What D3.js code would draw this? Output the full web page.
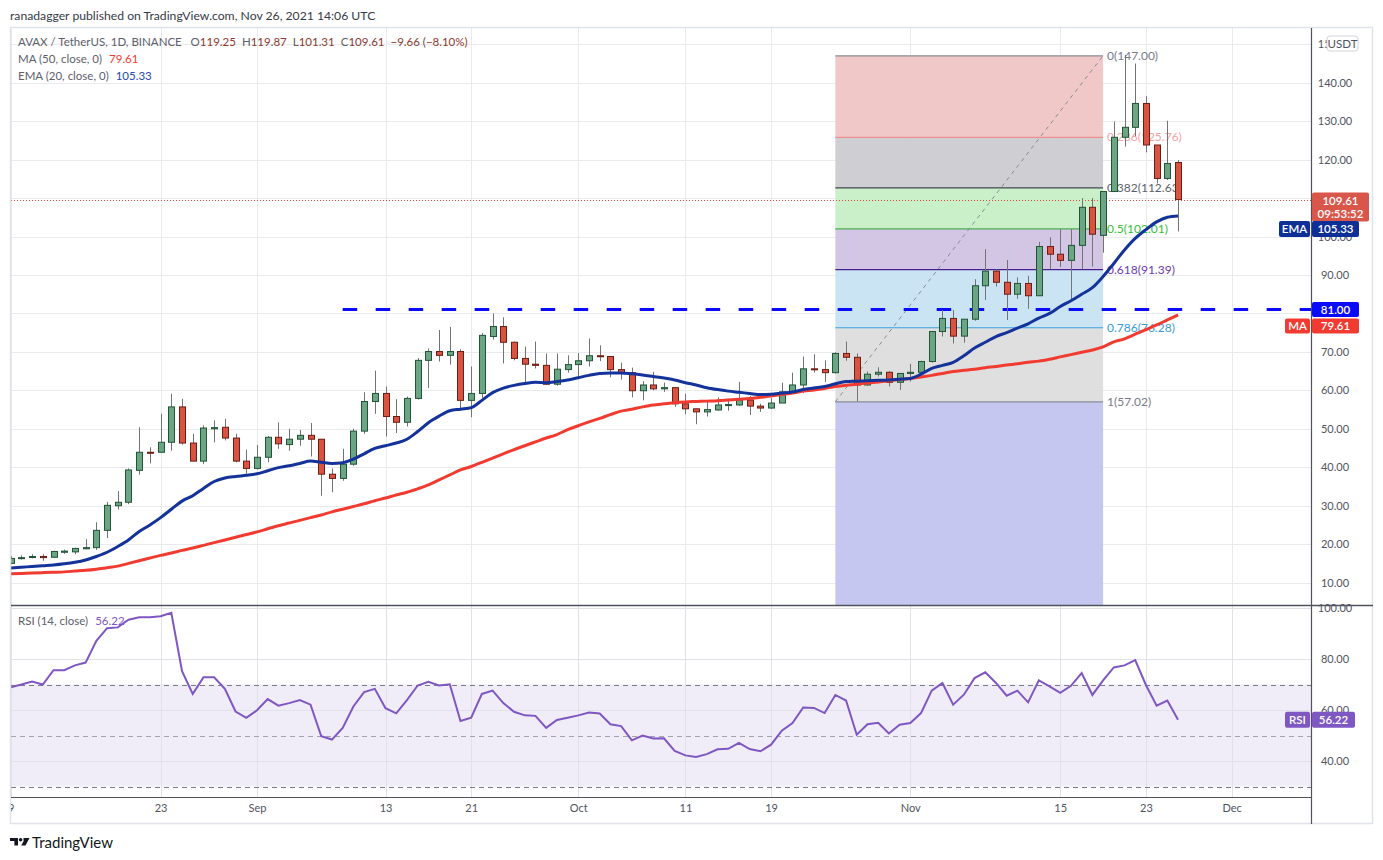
<!DOCTYPE html>
<html>
<head>
<meta charset="utf-8">
<title>AVAX / TetherUS, 1D</title>
<script src="https://d3js.org/d3.v7.min.js"></script>
<style>
  body { margin: 0; background: #fff; }
  svg { display: block; font-family: Lato, "Open Sans", sans-serif; }
</style>
</head>
<body>
<svg id="chart" width="1383" height="860"></svg>
<script>
// daily candles, Aug 9 .. Nov 26 2021
const firstDay = "2021-08-09";
const open  = [15.0,16.3,16.6,16.8,16.6,17.9,18.0,18.8,19.1,23.6,30.0,30.9,39.2,43.9,43.9,46.5,55.7,46.3,41.6,50.0,50.4,47.6,41.6,
  39.7,42.6,47.8,45.9,47.3,48.3,47.3,38.2,37.1,40.8,49.4,57.1,59.2,53.2,51.7,57.9,67.8,70.1,69.1,70.1,57.4,59.2,74.0,76.6,72.5,68.3,66.8,66.5,61.6,65.4,
  66.7,67.7,69.0,68.8,65.4,64.6,59.9,61.4,60.4,60.7,56.5,55.2,54.4,54.9,56.2,56.2,57.5,55.9,55.4,56.7,59.6,61.4,65.6,65.4,64.6,69.6,68.6,61.4,64.2,64.7,62.1,
  64.4,64.7,67.5,75.3,78.7,74.1,78.5,87.2,91.0,88.1,85.0,87.8,84.6,97.4,95.4,93.8,97.7,107.6,100.3,111.7,125.8,128.4,134.6,123.8,115.1,119.25];
const high  = [16.9,17.1,17.4,17.4,18.3,18.6,19.1,21.3,25.7,31.0,33.8,39.7,50.4,45.2,53.9,59.1,57.8,48.7,50.9,52.2,52.6,48.7,44.6,
  45.8,48.1,51.7,50.0,49.7,51.5,47.3,39.7,44.8,50.0,59.5,65.1,61.0,57.7,58.4,68.4,70.9,75.7,76.5,70.7,66.2,74.9,80.0,79.0,72.7,71.4,72.7,69.6,69.6,69.1,
  69.7,73.5,71.7,68.8,67.2,65.9,62.4,64.8,62.0,60.9,59.1,55.2,57.0,58.2,57.8,62.2,58.5,56.5,58.0,62.0,64.6,68.8,69.4,67.8,69.9,72.7,69.6,64.9,66.0,65.0,64.4,
  66.9,67.7,75.4,80.9,80.9,78.5,88.9,96.7,91.5,93.9,89.4,89.8,98.6,99.8,101.9,101.9,110.0,110.0,111.7,129.9,147.2,145.0,136.5,123.8,130.1,119.87];
const low   = [14.8,16.0,16.3,15.7,16.4,17.5,17.4,18.7,18.5,21.6,29.0,30.4,38.1,41.0,43.8,44.3,45.9,41.6,40.8,46.5,47.0,41.3,38.3,
  39.4,41.3,44.8,44.3,45.6,42.8,32.6,33.5,36.5,40.4,48.7,53.9,48.0,48.9,50.6,57.6,60.6,67.5,66.7,55.2,53.0,58.0,73.2,67.0,67.8,62.1,65.7,61.4,61.2,64.6,
  63.0,66.2,67.6,63.4,62.8,58.2,57.4,60.0,59.6,55.7,53.8,51.2,53.2,54.7,54.7,55.9,53.6,54.4,55.2,56.7,59.3,59.3,64.6,62.2,64.4,67.7,57.1,61.2,63.6,61.0,60.1,
  62.3,64.7,67.2,74.0,72.2,72.4,78.1,83.5,87.0,78.3,83.8,81.2,84.6,91.5,92.1,83.5,91.5,92.2,95.8,111.7,123.4,126.1,121.9,113.8,114.7,101.31];
const close = [16.3,16.5,16.8,16.5,18.1,18.2,18.9,19.1,23.6,30.1,30.9,39.3,43.9,43.8,46.5,55.7,46.3,41.6,50.2,50.3,47.6,41.6,39.7,
  42.6,47.8,46.1,47.3,48.3,47.3,38.2,37.1,40.8,49.4,57.1,59.2,53.2,51.7,57.9,67.8,70.1,69.1,70.1,57.4,59.2,74.3,76.6,72.5,68.3,66.8,66.5,61.6,65.5,66.7,
  67.7,69.0,68.8,65.4,64.6,59.9,61.4,60.4,60.7,56.5,55.2,54.4,55.0,56.2,56.3,57.5,55.9,55.4,56.7,59.6,61.4,65.6,65.4,64.6,69.6,68.6,61.4,64.2,64.7,62.1,64.4,
  64.7,67.5,75.3,78.7,74.1,78.5,87.2,91.0,88.1,85.0,87.8,84.6,97.4,95.4,93.8,97.7,107.6,100.6,111.7,125.8,128.4,134.6,123.8,115.1,119.0,109.61];

// MA (50) and EMA (20) as drawn
const ma50 = [12.3,12.4,12.5,12.6,12.7,12.8,13.0,13.2,13.5,13.9,14.3,15.0,15.7,16.4,17.1,17.7,18.4,19.0,19.7,20.4,21.1,21.8,22.5,
  23.2,24.0,24.8,25.5,26.2,26.9,27.6,28.4,29.1,29.8,30.5,31.3,32.0,32.8,33.5,34.4,35.4,36.7,38.0,39.3,40.2,41.3,42.4,43.5,44.6,45.6,46.6,47.6,48.5,49.8,
  50.8,51.8,52.7,53.7,54.6,55.1,55.7,56.2,56.5,56.8,57.0,57.1,57.2,57.3,57.5,57.7,57.9,58.2,58.5,58.9,59.3,59.8,60.1,60.5,61.0,61.3,61.6,61.9,62.2,62.5,62.8,
  63.1,63.5,63.9,64.4,64.9,65.2,65.5,65.9,66.2,66.6,66.9,67.3,67.6,68.1,68.7,69.3,69.9,70.5,71.3,72.6,73.4,74.6,75.8,77.0,78.3,79.61];
const ema20 = [13.8,14.0,14.2,14.4,14.6,14.9,15.3,15.9,16.8,17.9,19.4,21.1,23.3,25.0,26.9,29.1,31.2,32.6,34.5,36.3,37.2,37.6,37.9,
  38.3,39.1,39.9,40.4,41.0,41.6,41.3,41.0,41.2,42.1,43.5,44.9,45.6,46.3,47.3,49.3,51.6,53.3,54.7,55.1,55.5,57.4,59.4,60.6,61.3,61.8,62.1,62.0,62.3,62.7,
  63.3,63.9,64.4,64.5,64.5,64.3,64.0,63.6,63.2,62.7,62.0,61.4,60.7,60.2,59.8,59.5,59.2,58.9,59.0,59.3,59.6,60.2,60.6,61.0,61.7,62.3,62.4,62.5,62.6,62.7,62.9,
  63.1,64.2,65.7,66.5,67.3,69.0,71.0,72.5,74.0,75.0,76.2,77.3,78.8,80.0,81.8,83.3,85.0,86.7,89.6,93.0,96.5,99.5,101.8,103.8,105.0,105.33];

// RSI (14)
const rsi14 = [68.9,70.0,71.2,70.0,75.6,75.6,77.5,78.6,87.1,92.1,92.4,95.4,96.4,96.4,96.8,98.1,75.2,66.3,72.8,72.8,68.3,59.4,56.9,
  59.9,64.3,61.7,62.7,63.9,62.1,49.7,48.4,53.0,61.4,67.0,68.3,60.7,58.7,63.9,69.6,71.1,69.6,70.1,55.7,57.0,66.3,67.6,62.7,59.3,57.9,57.7,53.0,56.1,57.0,
  57.9,59.0,58.6,54.4,53.7,48.1,50.0,48.8,48.9,44.0,42.2,41.6,42.7,44.6,44.8,47.1,44.7,43.8,46.4,51.9,54.9,61.0,60.8,58.8,65.9,63.7,50.3,54.4,55.0,50.8,54.2,
  54.9,58.8,67.6,70.6,62.1,66.0,72.5,74.8,70.6,65.6,67.6,63.0,71.6,69.3,66.7,69.5,74.5,65.9,71.6,76.7,77.5,79.6,69.8,61.7,63.7,56.22];

// fibonacci retracement drawn from Oct 25 to Nov 19
const fibStart = "2021-10-25", fibEnd = "2021-11-19";
const fibRatios = ["0", "0.236", "0.382", "0.5", "0.618", "0.786", "1"];
const fibPrices = [147.00, 125.76, 112.63, 102.01, 91.39, 76.28, 57.02];
const supportLevel = 81.00, supportFrom = "2021-09-09";

const priceGrid = [10, 20, 30, 40, 50, 60, 70, 80, 90, 100, 110, 120, 130, 140, 150];
// 80 and 110 sit under the value badges, so they carry no label
const priceLabels = [10, 20, 30, 40, 50, 60, 70, 90, 100, 120, 130, 140, 150];
const rsiTicks = [40, 60, 80, 100];
const timeTicks = ["2021-08-09", "2021-08-23", "2021-09-01", "2021-09-13", "2021-09-21", "2021-10-01",
  "2021-10-11", "2021-10-19", "2021-11-01", "2021-11-15", "2021-11-23", "2021-12-01"];
const timeLabels = ["9", "23", "Sep", "13", "21", "Oct", "11", "19", "Nov", "15", "23", "Dec"];

// styles
const fibFill = ["#f0c3c3", "#cbcbcf", "#c4efc4", "#cfc0e2", "#c5e2f2", "#dcdcdc", "#c0c2f0"];
const fibLine = ["#8a8d96", "#ee8f8f", "#434651", "#4caf50", "#4a1f8f", "#3aa0db", "#8a8d96"];
const fibText = ["#787b86", "#f0a5a5", "#5d606b", "#35c035", "#6a3bb0", "#3a9ad9", "#787b86"];

const W = 1383, H = 860;
const paneL = 11, axisX = 1311, frameR = 1373;
const mainT = 28, mainB = 605, rsiB = 797, frameB = 824;

const parse = d3.utcParse("%Y-%m-%d");
const dates = open.map((_, i) => d3.utcDay.offset(parse(firstDay), i));

const x = d3.scaleUtc().domain([parse("2021-09-01"), parse("2021-12-01")]).range([257, 1231.6]);
const y = d3.scaleLinear().domain([0, 140]).range([621.1, 82.7]);
const yr = d3.scaleLinear().domain([40, 80]).range([761, 659]);

const svg = d3.select("#chart");
const gridCol = "#e9eaee", textCol = "#50535e";

svg.append("rect").attr("width", W).attr("height", H).attr("fill", "#fff");
svg.append("text").attr("x", 10).attr("y", 19.5).attr("font-size", 12.2).attr("fill", "#363a45")
  .text("ranadagger published on TradingView.com, Nov 26, 2021 14:06 UTC");

const defs = svg.append("defs");
defs.append("clipPath").attr("id", "clipMain").append("rect")
  .attr("x", paneL).attr("y", mainT).attr("width", axisX - paneL).attr("height", mainB - mainT);
defs.append("clipPath").attr("id", "clipRsi").append("rect")
  .attr("x", paneL).attr("y", mainB).attr("width", axisX - paneL).attr("height", rsiB - mainB);
defs.append("clipPath").attr("id", "clipTime").append("rect")
  .attr("x", paneL).attr("y", rsiB).attr("width", axisX - paneL).attr("height", frameB - rsiB);

// ---------- main pane ----------
const main = svg.append("g").attr("clip-path", "url(#clipMain)");

main.selectAll(".hgrid").data(priceGrid).join("line")
  .attr("x1", paneL).attr("x2", axisX).attr("y1", d => Math.round(y(d)) + 0.5).attr("y2", d => Math.round(y(d)) + 0.5)
  .attr("stroke", gridCol);
main.selectAll(".vgrid").data(timeTicks).join("line")
  .attr("x1", d => Math.round(x(parse(d))) + 0.5).attr("x2", d => Math.round(x(parse(d))) + 0.5)
  .attr("y1", mainT).attr("y2", mainB).attr("stroke", gridCol);

// fib retracement
const fx0 = x(parse(fibStart)), fx1 = x(parse(fibEnd));
const fibBands = fibPrices.map((p, i) => ({ top: p, bot: i < fibPrices.length - 1 ? fibPrices[i + 1] : null, i }));
main.selectAll(".fibband").data(fibBands).join("rect")
  .attr("x", fx0).attr("width", fx1 - fx0)
  .attr("y", d => y(d.top))
  .attr("height", d => (d.bot === null ? mainB : y(d.bot)) - y(d.top))
  .attr("fill", d => fibFill[d.i]).attr("opacity", 0.92);
main.selectAll(".fibline").data(fibPrices).join("line")
  .attr("x1", fx0).attr("x2", fx1).attr("y1", d => y(d)).attr("y2", d => y(d))
  .attr("stroke", (d, i) => fibLine[i]).attr("stroke-width", 1.2);
main.append("line")
  .attr("x1", fx0).attr("y1", y(fibPrices[6])).attr("x2", fx1).attr("y2", y(fibPrices[0]))
  .attr("stroke", "#8a8d96").attr("stroke-dasharray", "4,4");
main.selectAll(".fibtext").data(fibPrices).join("text")
  .attr("x", fx1 + 4).attr("y", d => y(d) + 4).attr("font-size", 12)
  .attr("fill", (d, i) => fibText[i])
  .text((d, i) => `${fibRatios[i]}(${d.toFixed(2)})`);

// last price dotted line and support line
const lastClose = close[close.length - 1];
main.append("line").attr("x1", paneL).attr("x2", axisX)
  .attr("y1", Math.round(y(lastClose)) + 0.5).attr("y2", Math.round(y(lastClose)) + 0.5)
  .attr("stroke", "#e0483c").attr("stroke-dasharray", "1,2");
main.append("line").attr("x1", x(parse(supportFrom))).attr("x2", axisX)
  .attr("y1", y(supportLevel)).attr("y2", y(supportLevel))
  .attr("stroke", "#0a0aff").attr("stroke-width", 3).attr("stroke-dasharray", "14.5,18.5");

// candles
const candles = dates.map((d, i) => ({ d, o: open[i], h: high[i], l: low[i], c: close[i] }));
main.selectAll(".wick").data(candles).join("line")
  .attr("x1", d => Math.round(x(d.d)) + 0.5).attr("x2", d => Math.round(x(d.d)) + 0.5)
  .attr("y1", d => y(d.h)).attr("y2", d => y(d.l))
  .attr("stroke", "#737375");
main.selectAll(".body").data(candles).join("rect")
  .attr("x", d => Math.round(x(d.d)) - 2.5).attr("width", 6)
  .attr("y", d => y(Math.max(d.o, d.c)))
  .attr("height", d => Math.max(1, Math.abs(y(d.o) - y(d.c))))
  .attr("fill", d => d.c >= d.o ? "#6ba583" : "#d75442")
  .attr("stroke", d => d.c >= d.o ? "#225437" : "#6e1d12");

// moving averages
const line = vals => d3.line().x((v, i) => x(dates[i])).y(v => y(v)).curve(d3.curveMonotoneX)(vals);
main.append("path").attr("d", line(ma50)).attr("fill", "none").attr("stroke", "#f23b30").attr("stroke-width", 3);
main.append("path").attr("d", line(ema20)).attr("fill", "none").attr("stroke", "#13329a").attr("stroke-width", 3);

// legend
const lg = svg.append("g").attr("font-size", 11.5).attr("fill", "#5d606b");
const l1 = lg.append("text").attr("x", 18).attr("y", 46);
l1.append("tspan").text("AVAX / TetherUS, 1D, BINANCE");
const ohlc = [["O", "119.25"], ["H", "119.87"], ["L", "101.31"], ["C", "109.61"]];
ohlc.forEach(([k, v], i) => {
  l1.append("tspan").attr("dx", i === 0 ? 9 : 6).text(k);
  l1.append("tspan").attr("fill", "#8b3a2f").text(v);
});
l1.append("tspan").attr("dx", 6).attr("fill", "#8b3a2f").text("−9.66 (−8.10%)");
const l2 = lg.append("text").attr("x", 18).attr("y", 63);
l2.append("tspan").text("MA (50, close, 0)");
l2.append("tspan").attr("dx", 7).attr("fill", "#f23b30").text(ma50[ma50.length - 1].toFixed(2));
const l3 = lg.append("text").attr("x", 18).attr("y", 80);
l3.append("tspan").text("EMA (20, close, 0)");
l3.append("tspan").attr("dx", 7).attr("fill", "#2a47b0").text(ema20[ema20.length - 1].toFixed(2));

// ---------- RSI pane ----------
const rp = svg.append("g").attr("clip-path", "url(#clipRsi)");
rp.append("rect").attr("x", paneL).attr("width", axisX - paneL)
  .attr("y", yr(70)).attr("height", yr(30) - yr(70)).attr("fill", "#f0ecf8");
rp.selectAll(".rgrid").data(rsiTicks).join("line")
  .attr("x1", paneL).attr("x2", axisX).attr("y1", d => Math.round(yr(d)) + 0.5).attr("y2", d => Math.round(yr(d)) + 0.5)
  .attr("stroke", "#e1e1e8");
rp.selectAll(".vgrid").data(timeTicks).join("line")
  .attr("x1", d => Math.round(x(parse(d))) + 0.5).attr("x2", d => Math.round(x(parse(d))) + 0.5)
  .attr("y1", mainB).attr("y2", rsiB).attr("stroke", "#e1e1e8");
rp.selectAll(".rband").data([70, 50, 30]).join("line")
  .attr("x1", paneL).attr("x2", axisX).attr("y1", d => Math.round(yr(d)) + 0.5).attr("y2", d => Math.round(yr(d)) + 0.5)
  .attr("stroke", d => d === 50 ? "#a3a5ad" : "#787b86").attr("stroke-dasharray", "5,4");
rp.append("path")
  .attr("d", d3.line().x((v, i) => x(dates[i])).y(v => yr(v))(rsi14))
  .attr("fill", "none").attr("stroke", "#7e57c2").attr("stroke-width", 2);
const rl = svg.append("text").attr("x", 18).attr("y", 625).attr("font-size", 11.5).attr("fill", "#5d606b");
rl.append("tspan").text("RSI (14, close)");
rl.append("tspan").attr("dx", 7).attr("fill", "#7e57c2").text(rsi14[rsi14.length - 1].toFixed(2));

// ---------- frame and axes ----------
svg.append("rect").attr("x", paneL - 0.5).attr("y", mainT - 0.5).attr("width", frameR - paneL)
  .attr("height", frameB - mainT).attr("fill", "none").attr("stroke", "#e0e3eb").attr("stroke-width", 1.5);
svg.append("line").attr("x1", paneL).attr("x2", frameR).attr("y1", mainB + 0.5).attr("y2", mainB + 0.5)
  .attr("stroke", "#50535e").attr("stroke-width", 1.5);
svg.append("line").attr("x1", paneL).attr("x2", axisX).attr("y1", rsiB + 0.5).attr("y2", rsiB + 0.5)
  .attr("stroke", "#50535e").attr("stroke-width", 1.2);
svg.append("line").attr("x1", axisX + 0.5).attr("x2", axisX + 0.5).attr("y1", mainT).attr("y2", frameB)
  .attr("stroke", "#50535e").attr("stroke-width", 1.2);

const yAxis = d3.axisRight(y).tickValues(priceLabels).tickSize(0).tickPadding(0).tickFormat(d3.format(".2f"));
svg.append("g").attr("transform", "translate(1335,0)").call(yAxis)
  .call(g => g.select(".domain").remove())
  .call(g => g.selectAll("text").attr("text-anchor", "middle").attr("font-size", 11)
    .attr("font-family", "Lato, sans-serif").attr("fill", textCol));
const rAxis = d3.axisRight(yr).tickValues(rsiTicks).tickSize(0).tickPadding(0).tickFormat(d3.format(".2f"));
svg.append("g").attr("transform", "translate(1335,0)").call(rAxis)
  .call(g => g.select(".domain").remove())
  .call(g => g.selectAll("text").attr("text-anchor", "middle").attr("font-size", 11)
    .attr("font-family", "Lato, sans-serif").attr("fill", textCol));

const xAxis = d3.axisBottom(x).tickValues(timeTicks.map(parse)).tickSize(0).tickPadding(0)
  .tickFormat((d, i) => timeLabels[i]);
svg.append("g").attr("clip-path", "url(#clipTime)").append("g")
  .attr("transform", `translate(0,${rsiB + 7})`).call(xAxis)
  .call(g => g.select(".domain").remove())
  .call(g => g.selectAll("text").attr("font-size", 11).attr("font-family", "Lato, sans-serif").attr("fill", textCol));

// value badges on the price scale
function badge(x0, yc, w, h, fill, label, opts = {}) {
  const g = svg.append("g");
  g.append("rect").attr("x", x0).attr("y", yc - h / 2).attr("width", w).attr("height", h)
    .attr("rx", opts.rx || 2).attr("fill", fill).attr("stroke", opts.stroke || "none");
  const lines = Array.isArray(label) ? label : [label];
  lines.forEach((t, i) => {
    g.append("text").attr("x", x0 + w / 2).attr("y", yc + 4 + (i - (lines.length - 1) / 2) * 13)
      .attr("text-anchor", "middle").attr("font-size", 11.5).attr("font-weight", opts.weight || 600)
      .attr("fill", opts.color || "#fff").text(t);
  });
}
badge(1327, 43.5, 31, 15, "#fff", "USDT", { stroke: "#d1d4dc", color: "#50535e", weight: 400, rx: 3 });
badge(axisX + 1, 207, 57, 29, "#d9564a", ["109.61", "09:53:52"]);
badge(1279, 229, 31, 16, "#0e2f96", "EMA");
badge(axisX + 1, 229, 47, 16, "#0e2f96", ema20[ema20.length - 1].toFixed(2));
badge(axisX + 1, y(supportLevel), 47, 15, "#0a0aff", supportLevel.toFixed(2));
badge(1285, 326, 25, 15, "#f23b30", "MA");
badge(axisX + 1, 326, 47, 15, "#f23b30", ma50[ma50.length - 1].toFixed(2));
badge(1285, yr(rsi14[rsi14.length - 1]), 25, 16, "#7e57c2", "RSI");
badge(axisX + 1, yr(rsi14[rsi14.length - 1]), 43, 16, "#7e57c2", rsi14[rsi14.length - 1].toFixed(2));

// TradingView mark
const logo = svg.append("g").attr("fill", "#131722");
logo.append("path").attr("d", "M10,838 h8 v7.5 h-3.6 v-4.5 h-4.4 Z");
logo.append("circle").attr("cx", 20.6).attr("cy", 839.8).attr("r", 1.8);
logo.append("path").attr("d", "M23.5,838 h6 l-4,7.5 h-4.3 l2.6,-4.8 h-0.3 Z");
svg.append("text").attr("x", 32).attr("y", 847.5).attr("font-size", 15)
  .attr("fill", "#131722").text("TradingView");
</script>
</body>
</html>
